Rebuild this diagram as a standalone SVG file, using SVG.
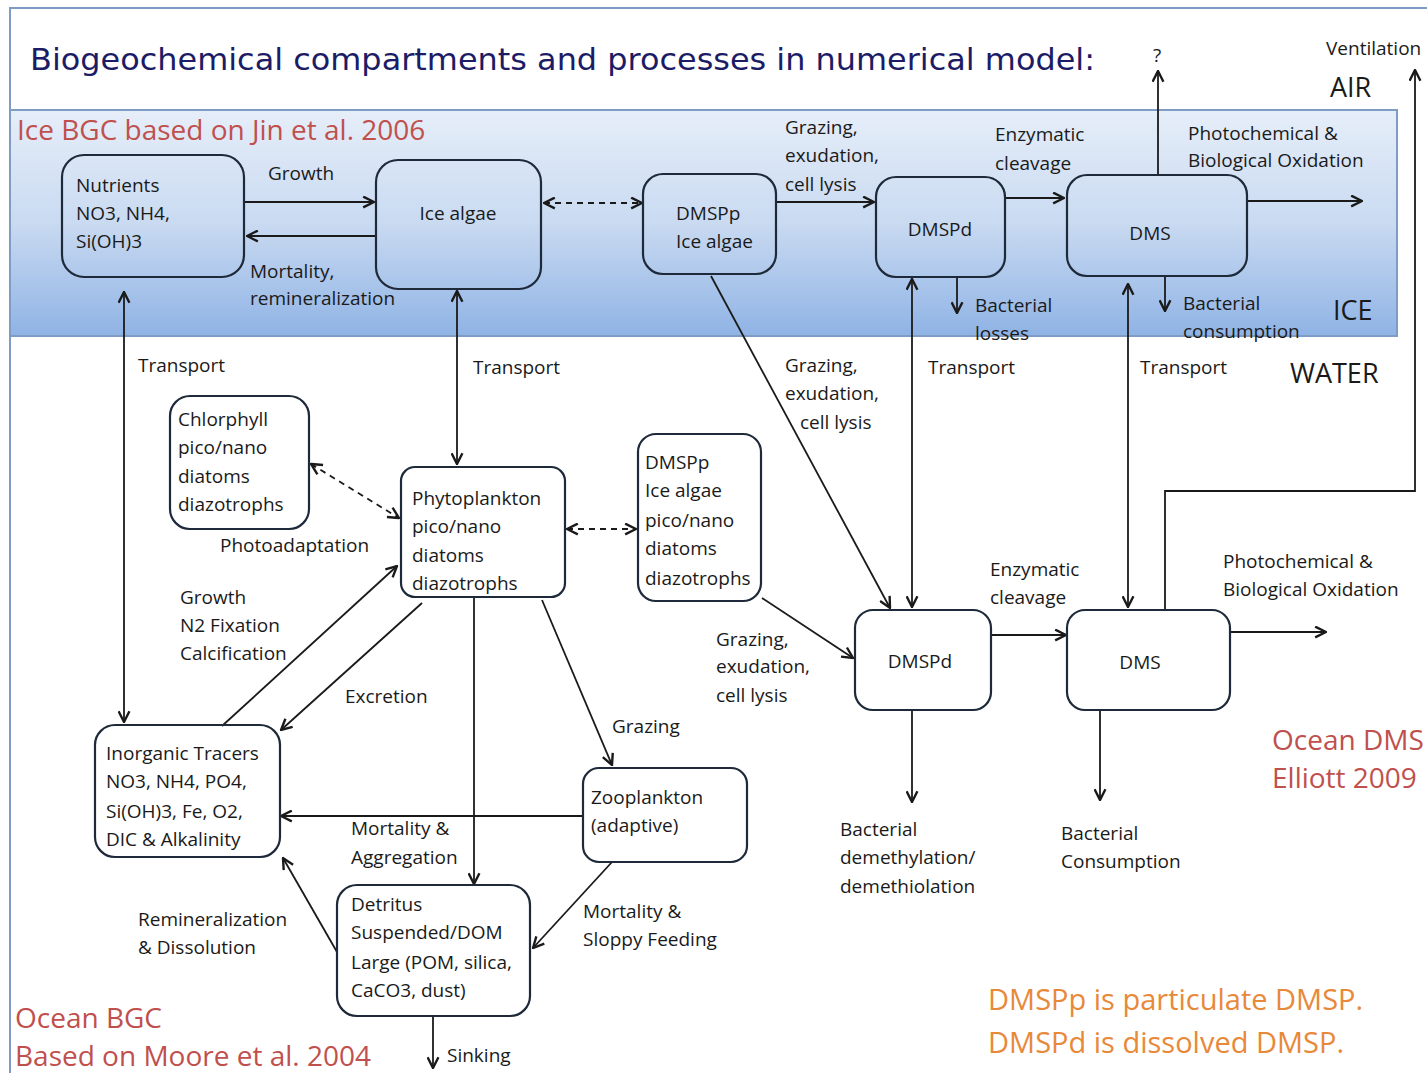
<svg xmlns="http://www.w3.org/2000/svg" width="1427" height="1073" viewBox="0 0 1427 1073">
<defs>
<linearGradient id="iceg" x1="0" y1="0" x2="0" y2="1">
<stop offset="0" stop-color="#e6eef9"/>
<stop offset="0.5" stop-color="#c9daf1"/>
<stop offset="1" stop-color="#8fb3e5"/>
</linearGradient>
<marker id="ah" viewBox="0 0 12 12" refX="11" refY="6" markerWidth="13" markerHeight="13" markerUnits="userSpaceOnUse" orient="auto-start-reverse">
<path d="M1,1 L11,6 L1,11" fill="none" stroke="#1a1a1a" stroke-width="2.2"/>
</marker>
</defs>
<style>
.node rect{fill:none;stroke:#1e2a3a;stroke-width:2.2}
.t{font-family:"Open Sans","Liberation Sans",sans-serif;font-size:19px;fill:#1a1a1a}
.lab{font-family:"Open Sans","Liberation Sans",sans-serif;font-size:19px;fill:#1a1a1a}
.red{font-family:"Open Sans","Liberation Sans",sans-serif;font-size:28px;fill:#c0504d}
.big{font-family:"Open Sans","Liberation Sans",sans-serif;font-size:27px;fill:#1a1a1a}
.org{font-family:"Open Sans","Liberation Sans",sans-serif;font-size:29px;fill:#e8893a}
.c line,.c path,.c polyline{fill:none;stroke:#1a1a1a;stroke-width:1.8}
.c .d{stroke-dasharray:6 5}
.a{marker-end:url(#ah)}
.b{marker-start:url(#ah);marker-end:url(#ah)}
</style>
<rect width="1427" height="1073" fill="#ffffff"/>
<path d="M10,1073 V8 H1427" fill="none" stroke="#7f9cc4" stroke-width="2"/>
<rect x="10" y="110" width="1387" height="226" fill="url(#iceg)" stroke="#7f9cc4" stroke-width="2"/>

<text x="30" y="70" font-family="'DejaVu Sans',sans-serif" font-size="31" fill="#1c1c66" textLength="1065" lengthAdjust="spacingAndGlyphs">Biogeochemical compartments and processes in numerical model:</text>
<text x="1153" y="62" class="lab">?</text>
<text x="1326" y="55" class="lab">Ventilation</text>
<text x="1330" y="97" class="big">AIR</text>
<text x="1333" y="320" class="big">ICE</text>
<text x="1290" y="383" class="big">WATER</text>

<text x="17" y="140" class="red">Ice BGC based on Jin et al. 2006</text>
<text x="1272" y="750" class="red">Ocean DMS</text>
<text x="1272" y="788" class="red">Elliott 2009</text>
<text x="15" y="1028" class="red">Ocean BGC</text>
<text x="15" y="1066" class="red">Based on Moore et al. 2004</text>
<text x="988" y="1010" class="org">DMSPp is particulate DMSP.</text>
<text x="988" y="1053" class="org">DMSPd is dissolved DMSP.</text>

<g id="connectors" class="c">
<line class="a" x1="245" y1="202" x2="374" y2="202"/>
<line class="a" x1="376" y1="236" x2="247" y2="236"/>
<line class="b d" x1="544" y1="203" x2="642" y2="203"/>
<line class="a" x1="776" y1="202" x2="874" y2="202"/>
<line class="a" x1="1005" y1="198" x2="1064" y2="198"/>
<line class="a" x1="1247" y1="201" x2="1362" y2="201"/>
<line class="a" x1="957" y1="277" x2="957" y2="313"/>
<line class="a" x1="1165" y1="276" x2="1165" y2="311"/>
<line class="a" x1="1158" y1="175" x2="1158" y2="71"/>
<polyline class="a" points="1165,610 1165,491 1415,491 1415,70"/>
<line class="b" x1="124" y1="292" x2="124" y2="722"/>
<line class="b" x1="457" y1="291" x2="457" y2="464"/>
<line class="b" x1="912" y1="279" x2="912" y2="607"/>
<line class="b" x1="1128" y1="284" x2="1128" y2="607"/>
<line class="a" x1="711" y1="276" x2="890" y2="608"/>
<line class="b d" x1="311" y1="464" x2="399" y2="518"/>
<line class="b d" x1="567" y1="529" x2="636" y2="529"/>
<line class="a" x1="222" y1="726" x2="397" y2="566"/>
<line class="a" x1="422" y1="603" x2="281" y2="730"/>
<line class="a" x1="474" y1="598" x2="474" y2="884"/>
<line class="a" x1="542" y1="600" x2="612" y2="765"/>
<line class="a" x1="583" y1="816" x2="281" y2="816"/>
<line class="a" x1="612" y1="862" x2="533" y2="948"/>
<line class="a" x1="337" y1="952" x2="283" y2="858"/>
<line class="a" x1="433" y1="1016" x2="433" y2="1068"/>
<line class="a" x1="762" y1="598" x2="853" y2="658"/>
<line class="a" x1="991" y1="635" x2="1066" y2="635"/>
<line class="a" x1="1230" y1="632" x2="1326" y2="632"/>
<line class="a" x1="912" y1="710" x2="912" y2="802"/>
<line class="a" x1="1100" y1="710" x2="1100" y2="800"/>
</g>

<g id="labels">
<text x="268" y="180" class="lab">Growth</text>
<text x="250" y="278" class="lab">Mortality,</text>
<text x="250" y="305" class="lab">remineralization</text>
<text x="785" y="134" class="lab">Grazing,</text>
<text x="785" y="162" class="lab">exudation,</text>
<text x="785" y="191" class="lab">cell lysis</text>
<text x="995" y="141" class="lab">Enzymatic</text>
<text x="995" y="170" class="lab">cleavage</text>
<text x="1188" y="140" class="lab">Photochemical &amp;</text>
<text x="1188" y="167" class="lab">Biological Oxidation</text>
<text x="975" y="312" class="lab">Bacterial</text>
<text x="975" y="340" class="lab">losses</text>
<text x="1183" y="310" class="lab">Bacterial</text>
<text x="1183" y="338" class="lab">consumption</text>
<text x="138" y="372" class="lab">Transport</text>
<text x="473" y="374" class="lab">Transport</text>
<text x="928" y="374" class="lab">Transport</text>
<text x="1140" y="374" class="lab">Transport</text>
<text x="785" y="372" class="lab">Grazing,</text>
<text x="785" y="400" class="lab">exudation,</text>
<text x="800" y="429" class="lab">cell lysis</text>
<text x="220" y="552" class="lab">Photoadaptation</text>
<text x="180" y="604" class="lab">Growth</text>
<text x="180" y="632" class="lab">N2 Fixation</text>
<text x="180" y="660" class="lab">Calcification</text>
<text x="345" y="703" class="lab">Excretion</text>
<text x="612" y="733" class="lab">Grazing</text>
<text x="351" y="835" class="lab">Mortality &amp;</text>
<text x="351" y="864" class="lab">Aggregation</text>
<text x="583" y="918" class="lab">Mortality &amp;</text>
<text x="583" y="946" class="lab">Sloppy Feeding</text>
<text x="138" y="926" class="lab">Remineralization</text>
<text x="138" y="954" class="lab">&amp; Dissolution</text>
<text x="447" y="1062" class="lab">Sinking</text>
<text x="716" y="646" class="lab">Grazing,</text>
<text x="716" y="673" class="lab">exudation,</text>
<text x="716" y="702" class="lab">cell lysis</text>
<text x="990" y="576" class="lab">Enzymatic</text>
<text x="990" y="604" class="lab">cleavage</text>
<text x="1223" y="568" class="lab">Photochemical &amp;</text>
<text x="1223" y="596" class="lab">Biological Oxidation</text>
<text x="840" y="836" class="lab">Bacterial</text>
<text x="840" y="864" class="lab">demethylation/</text>
<text x="840" y="893" class="lab">demethiolation</text>
<text x="1061" y="840" class="lab">Bacterial</text>
<text x="1061" y="868" class="lab">Consumption</text>
</g>

<g id="ice-nutrients" class="node"><rect x="62" y="155" width="182" height="122" rx="22"/>
<text x="76" y="192" class="t">Nutrients</text><text x="76" y="220" class="t">NO3, NH4,</text><text x="76" y="248" class="t">Si(OH)3</text></g>
<g id="ice-algae" class="node"><rect x="376" y="160" width="165" height="129" rx="22"/>
<text x="458" y="220" class="t" text-anchor="middle">Ice algae</text></g>
<g id="ice-dmspp" class="node"><rect x="643" y="174" width="133" height="100" rx="20"/>
<text x="676" y="220" class="t">DMSPp</text><text x="676" y="248" class="t">Ice algae</text></g>
<g id="ice-dmspd" class="node"><rect x="876" y="177" width="129" height="100" rx="20"/>
<text x="940" y="236" class="t" text-anchor="middle">DMSPd</text></g>
<g id="ice-dms" class="node"><rect x="1067" y="175" width="180" height="101" rx="20"/>
<text x="1150" y="240" class="t" text-anchor="middle">DMS</text></g>

<g id="chlorophyll" class="node"><rect x="170" y="396" width="139" height="133" rx="20"/>
<text x="178" y="426" class="t">Chlorphyll</text><text x="178" y="454" class="t">pico/nano</text><text x="178" y="483" class="t">diatoms</text><text x="178" y="511" class="t">diazotrophs</text></g>
<g id="phytoplankton" class="node"><rect x="401" y="467" width="164" height="130" rx="14"/>
<text x="412" y="505" class="t">Phytoplankton</text><text x="412" y="533" class="t">pico/nano</text><text x="412" y="562" class="t">diatoms</text><text x="412" y="590" class="t">diazotrophs</text></g>
<g id="ocean-dmspp" class="node"><rect x="638" y="434" width="123" height="167" rx="18"/>
<text x="645" y="469" class="t">DMSPp</text><text x="645" y="497" class="t">Ice algae</text><text x="645" y="527" class="t">pico/nano</text><text x="645" y="555" class="t">diatoms</text><text x="645" y="585" class="t">diazotrophs</text></g>
<g id="ocean-dmspd" class="node"><rect x="855" y="610" width="136" height="100" rx="18"/>
<text x="920" y="668" class="t" text-anchor="middle">DMSPd</text></g>
<g id="ocean-dms" class="node"><rect x="1067" y="610" width="163" height="100" rx="18"/>
<text x="1140" y="669" class="t" text-anchor="middle">DMS</text></g>
<g id="inorganic" class="node"><rect x="95" y="725" width="185" height="132" rx="20"/>
<text x="106" y="760" class="t">Inorganic Tracers</text><text x="106" y="788" class="t">NO3, NH4, PO4,</text><text x="106" y="818" class="t">Si(OH)3, Fe, O2,</text><text x="106" y="846" class="t">DIC &amp; Alkalinity</text></g>
<g id="zooplankton" class="node"><rect x="583" y="768" width="164" height="94" rx="16"/>
<text x="591" y="804" class="t">Zooplankton</text><text x="591" y="832" class="t">(adaptive)</text></g>
<g id="detritus" class="node"><rect x="337" y="885" width="193" height="131" rx="20"/>
<text x="351" y="911" class="t">Detritus</text><text x="351" y="939" class="t">Suspended/DOM</text><text x="351" y="969" class="t">Large (POM, silica,</text><text x="351" y="997" class="t">CaCO3, dust)</text></g>
</svg>
